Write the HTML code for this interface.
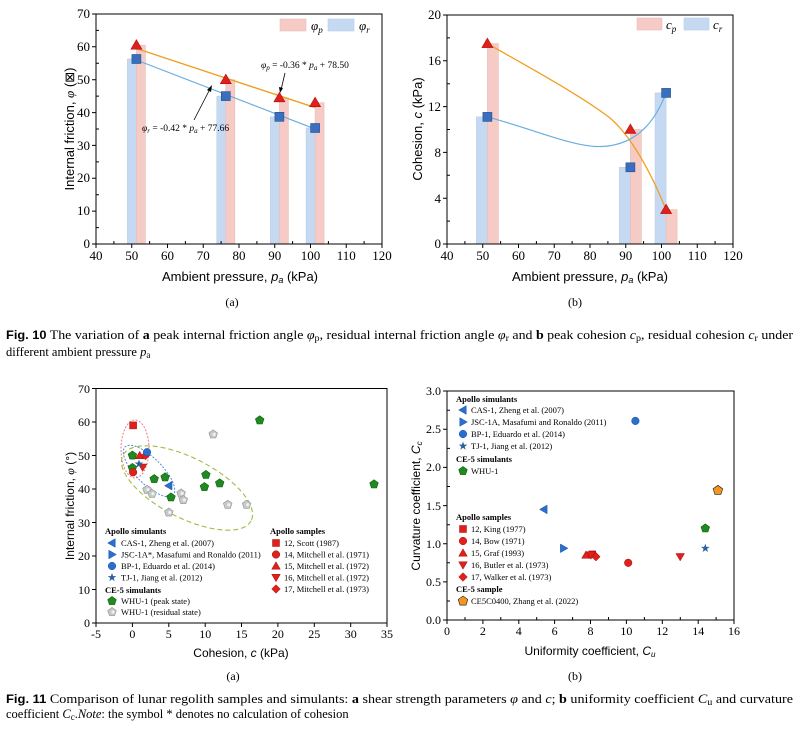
<!DOCTYPE html>
<html><head><meta charset="utf-8"><style>
html,body{margin:0;padding:0;background:#fff;}
svg{display:block;}
.s{font-family:"Liberation Serif",serif;}
.a{font-family:"Liberation Sans",sans-serif;}
</style></head><body>
<svg width="800" height="736" viewBox="0 0 800 736" xmlns="http://www.w3.org/2000/svg">
<defs>
<g id="tri"><polygon points="0,-5.5 5.5,4 -5.5,4" fill="#e0201b" stroke="#b01010" stroke-width="0.6"/></g>
<g id="sq"><rect x="-4.5" y="-4.5" width="9" height="9" fill="#3a6fbf" stroke="#234f90" stroke-width="0.6"/></g>
<g id="gp"><polygon points="0,-4.5 4.3,-1.4 2.6,3.6 -2.6,3.6 -4.3,-1.4" fill="#1f8a1f" stroke="#0f5f0f" stroke-width="0.6"/></g>
<g id="gr"><polygon points="0,-4.5 4.3,-1.4 2.6,3.6 -2.6,3.6 -4.3,-1.4" fill="#c8c8c8" stroke="#909090" stroke-width="0.6"/><circle cx="1" cy="0" r="1.6" fill="#e8f4f0"/></g>
<g id="op"><polygon points="0,-5 4.8,-1.5 3,4.1 -3,4.1 -4.8,-1.5" fill="#f7941d" stroke="#333" stroke-width="0.7"/></g>
<g id="rsq"><rect x="-3.5" y="-3.5" width="7" height="7" fill="#e0201b" stroke="#a01010" stroke-width="0.5"/></g>
<g id="rci"><circle r="3.8" fill="#e0201b" stroke="#a01010" stroke-width="0.5"/></g>
<g id="rtu"><polygon points="0,-4.2 4.3,3.2 -4.3,3.2" fill="#e0201b" stroke="#a01010" stroke-width="0.5"/></g>
<g id="rtd"><polygon points="0,4.2 4.3,-3.2 -4.3,-3.2" fill="#e0201b" stroke="#a01010" stroke-width="0.5"/></g>
<g id="rdi"><polygon points="0,-4.3 4.3,0 0,4.3 -4.3,0" fill="#e0201b" stroke="#a01010" stroke-width="0.5"/></g>
<g id="bci"><circle r="3.8" fill="#2a6fd0" stroke="#1a4f9f" stroke-width="0.5"/></g>
<g id="blt"><polygon points="-4.3,0 3.2,-4.3 3.2,4.3" fill="#2a6fd0" stroke="#1a4f9f" stroke-width="0.5"/></g>
<g id="brt"><polygon points="4.3,0 -3.2,-4.3 -3.2,4.3" fill="#2a6fd0" stroke="#1a4f9f" stroke-width="0.5"/></g>
<g id="bst"><polygon points="0,-4.5 1.1,-1.4 4.3,-1.4 1.7,0.6 2.7,3.7 0,1.8 -2.7,3.7 -1.7,0.6 -4.3,-1.4 -1.1,-1.4" fill="#2a5fa0"/></g>
</defs>

<!-- ============ Fig 10a ============ -->
<g>
<!-- bars -->
<g fill="#c5daf2" stroke="#b8cde6" stroke-width="0.6">
<rect x="127.4" y="59" width="9" height="185"/>
<rect x="216.8" y="96.1" width="9" height="147.9"/>
<rect x="270.4" y="116.8" width="9" height="127.2"/>
<rect x="306.1" y="128" width="9" height="116"/>
</g>
<g fill="#f6cbc6" stroke="#e8bdb8" stroke-width="0.6">
<rect x="136.4" y="45.2" width="9" height="198.8"/>
<rect x="225.8" y="79.7" width="9" height="164.3"/>
<rect x="279.4" y="97.8" width="9" height="146.2"/>
<rect x="315.1" y="102.7" width="9" height="141.3"/>
</g>
<line x1="136.4" y1="48.5" x2="315.1" y2="107.6" stroke="#f0a020" stroke-width="1.4"/>
<line x1="136.4" y1="60" x2="315.1" y2="129" stroke="#6aaee0" stroke-width="1.2"/>
<use href="#tri" x="136.4" y="45.2"/><use href="#tri" x="225.8" y="79.7"/><use href="#tri" x="279.4" y="97.8"/><use href="#tri" x="315.1" y="102.7"/>
<use href="#sq" x="136.4" y="59"/><use href="#sq" x="225.8" y="96.1"/><use href="#sq" x="279.4" y="116.8"/><use href="#sq" x="315.1" y="128"/>
<rect x="96" y="14" width="286" height="230" fill="none" stroke="#000" stroke-width="1"/>
<g stroke="#000" stroke-width="1">
<path d="M96,244v4M131.75,244v4M167.5,244v4M203.25,244v4M239,244v4M274.75,244v4M310.5,244v4M346.25,244v4M382,244v4"/>
<path d="M113.9,244v-3M149.6,244v-3M185.4,244v-3M221.1,244v-3M256.9,244v-3M292.6,244v-3M328.4,244v-3M364.1,244v-3"/>
<path d="M96,244h-4M96,211.1h-4M96,178.3h-4M96,145.4h-4M96,112.6h-4M96,79.7h-4M96,46.8h-4M96,14h-4"/>
<path d="M96,227.6h3M96,194.7h3M96,161.9h3M96,129h3M96,96.1h3M96,63.3h3M96,30.4h3"/>
</g>
<g class="s" font-size="13" text-anchor="end">
<text x="90" y="248">0</text><text x="90" y="215">10</text><text x="90" y="182">20</text><text x="90" y="150">30</text><text x="90" y="117">40</text><text x="90" y="84">50</text><text x="90" y="51">60</text><text x="90" y="18">70</text>
</g>
<g class="s" font-size="13" text-anchor="middle">
<text x="96" y="260">40</text><text x="131.75" y="260">50</text><text x="167.5" y="260">60</text><text x="203.25" y="260">70</text><text x="239" y="260">80</text><text x="274.75" y="260">90</text><text x="310.5" y="260">100</text><text x="346.25" y="260">110</text><text x="382" y="260">120</text>
</g>
<text class="a" font-size="13" x="240" y="281" text-anchor="middle">Ambient pressure, <tspan font-style="italic">p<tspan font-size="9" dy="2">a</tspan></tspan><tspan dy="-2"> (kPa)</tspan></text>
<text class="a" font-size="13" transform="translate(74,129) rotate(-90)" text-anchor="middle">Internal friction, <tspan font-style="italic" class="s">φ</tspan> (⊠)</text>
<rect x="280" y="19" width="26" height="12" fill="#f6cbc6" stroke="#e8bdb8" stroke-width="0.6"/>
<text class="s" font-style="italic" font-size="13" x="311" y="30">φ<tspan font-size="9" dy="3">p</tspan></text>
<rect x="328" y="19" width="26" height="12" fill="#c5daf2" stroke="#b8cde6" stroke-width="0.6"/>
<text class="s" font-style="italic" font-size="13" x="359" y="30">φ<tspan font-size="9" dy="3">r</tspan></text>
<text class="s" font-size="9.5" x="261" y="68"><tspan font-style="italic">φ<tspan font-size="7" dy="2">p</tspan></tspan><tspan dy="-2"> = -0.36 * </tspan><tspan font-style="italic">p<tspan font-size="7" dy="2">a</tspan></tspan><tspan dy="-2"> + 78.50</tspan></text>
<line x1="285" y1="73" x2="281" y2="90" stroke="#000" stroke-width="0.8"/><polygon points="280,93 279,87 283,88" fill="#000"/>
<text class="s" font-size="9.5" x="142" y="131"><tspan font-style="italic">φ<tspan font-size="7" dy="2">r</tspan></tspan><tspan dy="-2"> = -0.42 * </tspan><tspan font-style="italic">p<tspan font-size="7" dy="2">a</tspan></tspan><tspan dy="-2"> + 77.66</tspan></text>
<line x1="194" y1="120" x2="210" y2="89" stroke="#000" stroke-width="0.8"/><polygon points="212,85 211,92 207,90" fill="#000"/>
<text class="s" font-size="12" x="232" y="306" text-anchor="middle">(a)</text>
</g>

<!-- ============ Fig 10b ============ -->
<g>
<g fill="#c5daf2" stroke="#b8cde6" stroke-width="0.6">
<rect x="476.4" y="116.9" width="11" height="127.1"/>
<rect x="619.4" y="167.3" width="11" height="76.7"/>
<rect x="655.1" y="92.9" width="11" height="151.1"/>
</g>
<g fill="#f6cbc6" stroke="#e8bdb8" stroke-width="0.6">
<rect x="487.4" y="43.6" width="11" height="200.4"/>
<rect x="630.4" y="129.5" width="11" height="114.5"/>
<rect x="666.1" y="209.6" width="11" height="34.4"/>
</g>
<path d="M487.4,43.6 C530,68 580,95 610,118 C630,135 650,170 666,209.6" fill="none" stroke="#f0a020" stroke-width="1.3"/>
<path d="M487.4,116.9 C530,128 575,148 602,146.5 C630,145 652,130 666,92.9" fill="none" stroke="#6aaee0" stroke-width="1.2"/>
<use href="#tri" x="487.4" y="43.6"/><use href="#tri" x="630.4" y="129.5"/><use href="#tri" x="666.1" y="209.6"/>
<use href="#sq" x="487.4" y="116.9"/><use href="#sq" x="630.4" y="167.3"/><use href="#sq" x="666.1" y="92.9"/>
<rect x="447" y="15" width="286" height="229" fill="none" stroke="#000" stroke-width="1"/>
<g stroke="#000" stroke-width="1">
<path d="M447,244v4M482.75,244v4M518.5,244v4M554.25,244v4M590,244v4M625.75,244v4M661.5,244v4M697.25,244v4M733,244v4"/>
<path d="M464.9,244v-3M500.6,244v-3M536.4,244v-3M572.1,244v-3M607.9,244v-3M643.6,244v-3M679.4,244v-3M715.1,244v-3"/>
<path d="M447,244h-4M447,198.2h-4M447,152.4h-4M447,106.6h-4M447,60.8h-4M447,15h-4"/>
<path d="M447,221.1h3M447,175.3h3M447,129.5h3M447,83.7h3M447,37.9h3"/>
</g>
<g class="s" font-size="13" text-anchor="end">
<text x="441" y="248">0</text><text x="441" y="203">4</text><text x="441" y="157">8</text><text x="441" y="111">12</text><text x="441" y="65">16</text><text x="441" y="19">20</text>
</g>
<g class="s" font-size="13" text-anchor="middle">
<text x="447" y="260">40</text><text x="482.75" y="260">50</text><text x="518.5" y="260">60</text><text x="554.25" y="260">70</text><text x="590" y="260">80</text><text x="625.75" y="260">90</text><text x="661.5" y="260">100</text><text x="697.25" y="260">110</text><text x="733" y="260">120</text>
</g>
<text class="a" font-size="13" x="590" y="281" text-anchor="middle">Ambient pressure, <tspan font-style="italic">p<tspan font-size="9" dy="2">a</tspan></tspan><tspan dy="-2"> (kPa)</tspan></text>
<text class="a" font-size="13" transform="translate(422,129) rotate(-90)" text-anchor="middle">Cohesion, <tspan font-style="italic">c</tspan> (kPa)</text>
<rect x="637" y="18" width="25" height="12" fill="#f6cbc6" stroke="#e8bdb8" stroke-width="0.6"/>
<text class="s" font-style="italic" font-size="13" x="666" y="29">c<tspan font-size="9" dy="3">p</tspan></text>
<rect x="684" y="18" width="25" height="12" fill="#c5daf2" stroke="#b8cde6" stroke-width="0.6"/>
<text class="s" font-style="italic" font-size="13" x="713" y="29">c<tspan font-size="9" dy="3">r</tspan></text>
<text class="s" font-size="12" x="575" y="306" text-anchor="middle">(b)</text>
</g>

<!-- Fig 10 caption -->
<g class="s" font-size="12.5">
<text x="6" y="339" textLength="787" lengthAdjust="spacingAndGlyphs"><tspan class="a" font-weight="bold" font-size="11.5">Fig. 10</tspan>  The variation of <tspan font-weight="bold">a</tspan> peak internal friction angle <tspan font-style="italic">φ</tspan><tspan font-size="9" dy="2">p</tspan><tspan dy="-2">, residual internal friction angle </tspan><tspan font-style="italic">φ</tspan><tspan font-size="9" dy="2">r</tspan><tspan dy="-2"> and </tspan><tspan font-weight="bold">b</tspan> peak cohesion <tspan font-style="italic">c</tspan><tspan font-size="9" dy="2">p</tspan><tspan dy="-2">, residual cohesion </tspan><tspan font-style="italic">c</tspan><tspan font-size="9" dy="2">r</tspan><tspan dy="-2"> under</tspan></text>
<text x="6" y="356">different ambient pressure <tspan font-style="italic">p</tspan><tspan font-size="9" dy="2">a</tspan></text>
</g>

<!-- ============ Fig 11a ============ -->
<g>
<ellipse cx="135" cy="449" rx="14" ry="29" fill="none" stroke="#f07a8a" stroke-width="1" stroke-dasharray="2,1.5"/>
<ellipse cx="149" cy="471" rx="34" ry="13" transform="rotate(45 149 471)" fill="none" stroke="#4a8ee0" stroke-width="1" stroke-dasharray="2,1.5"/>
<ellipse cx="187" cy="488" rx="72" ry="30" transform="rotate(27 187 488)" fill="none" stroke="#9ac040" stroke-width="1.1" stroke-dasharray="5,3"/>
<use href="#gr" x="213.2" y="434.4"/><use href="#gr" x="147" y="489.7"/><use href="#gr" x="152" y="493.7"/><use href="#gr" x="181.1" y="493.4"/><use href="#gr" x="183.3" y="500"/><use href="#gr" x="168.8" y="512.5"/><use href="#gr" x="227.7" y="504.7"/><use href="#gr" x="246.6" y="504.7"/>
<use href="#gp" x="132.4" y="455.5"/><use href="#gp" x="132.4" y="467.9"/><use href="#gp" x="154.2" y="479"/><use href="#gp" x="165.1" y="477.3"/><use href="#gp" x="171" y="497.4"/><use href="#gp" x="204.4" y="487"/><use href="#gp" x="205.9" y="474.9"/><use href="#gp" x="219.7" y="483.3"/><use href="#gp" x="259.7" y="420.3"/><use href="#gp" x="374" y="484.3"/>
<use href="#rsq" x="133.1" y="425.4"/><use href="#rci" x="133.1" y="472.3"/><use href="#rtu" x="139.7" y="455.5"/><use href="#rtd" x="142.6" y="467.2"/><use href="#rdi" x="145.5" y="455.5"/>
<use href="#bci" x="147" y="452.2"/><use href="#bst" x="139" y="463.9"/><use href="#blt" x="168.8" y="485.7"/>
<rect x="96" y="388.5" width="291" height="234.5" fill="none" stroke="#000" stroke-width="1"/>
<g stroke="#000" stroke-width="1">
<path d="M96,623v4M132.4,623v4M168.8,623v4M205.2,623v4M241.5,623v4M277.9,623v4M314.3,623v4M350.7,623v4M387,623v4"/>
<path d="M96,623h-4M96,589.5h-4M96,556h-4M96,522.5h-4M96,489h-4M96,455.5h-4M96,422h-4M96,388.5h-4"/>
</g>
<g class="s" font-size="12" text-anchor="end">
<text x="90" y="627">0</text><text x="90" y="594">10</text><text x="90" y="560">20</text><text x="90" y="527">30</text><text x="90" y="493">40</text><text x="90" y="460">50</text><text x="90" y="426">60</text><text x="90" y="393">70</text>
</g>
<g class="s" font-size="12" text-anchor="middle">
<text x="96" y="638">-5</text><text x="132.4" y="638">0</text><text x="168.8" y="638">5</text><text x="205.2" y="638">10</text><text x="241.5" y="638">15</text><text x="277.9" y="638">20</text><text x="314.3" y="638">25</text><text x="350.7" y="638">30</text><text x="387" y="638">35</text>
</g>
<text class="a" font-size="12" x="241" y="657" text-anchor="middle">Cohesion, <tspan font-style="italic">c</tspan> (kPa)</text>
<text class="a" font-size="12" transform="translate(74,506) rotate(-90)" text-anchor="middle">Internal friction, <tspan font-style="italic" class="s">φ</tspan> (°)</text>
<g class="s" font-size="8.5">
<text x="105" y="534" font-weight="bold">Apollo simulants</text>
<use href="#blt" x="112" y="543"/><text x="121" y="546">CAS-1, Zheng et al. (2007)</text>
<use href="#brt" x="112" y="554.5"/><text x="121" y="557.5">JSC-1A*, Masafumi and Ronaldo (2011)</text>
<use href="#bci" x="112" y="566"/><text x="121" y="569">BP-1, Eduardo et al. (2014)</text>
<use href="#bst" x="112" y="577.5"/><text x="121" y="580.5">TJ-1, Jiang et al. (2012)</text>
<text x="105" y="593" font-weight="bold">CE-5 simulants</text>
<use href="#gp" x="112" y="601"/><text x="121" y="604">WHU-1 (peak state)</text>
<use href="#gr" x="112" y="612"/><text x="121" y="615">WHU-1 (residual state)</text>
<text x="270" y="534" font-weight="bold">Apollo samples</text>
<use href="#rsq" x="276" y="543"/><text x="284" y="546">12, Scott (1987)</text>
<use href="#rci" x="276" y="554.5"/><text x="284" y="557.5">14, Mitchell et al. (1971)</text>
<use href="#rtu" x="276" y="566"/><text x="284" y="569">15, Mitchell et al. (1972)</text>
<use href="#rtd" x="276" y="577.5"/><text x="284" y="580.5">16, Mitchell et al. (1972)</text>
<use href="#rdi" x="276" y="589"/><text x="284" y="592">17, Mitchell et al. (1973)</text>
</g>
<text class="s" font-size="12" x="233" y="680" text-anchor="middle">(a)</text>
</g>

<!-- ============ Fig 11b ============ -->
<g>
<rect x="447" y="391" width="287" height="229" fill="none" stroke="#000" stroke-width="1"/>
<g stroke="#000" stroke-width="1">
<path d="M447,620v4M482.9,620v4M518.8,620v4M554.6,620v4M590.5,620v4M626.4,620v4M662.3,620v4M698.2,620v4M734,620v4"/>
<path d="M465,620v-3M500.8,620v-3M536.7,620v-3M572.6,620v-3M608.5,620v-3M644.4,620v-3M680.3,620v-3M716.1,620v-3"/>
<path d="M447,620h-4M447,581.9h-4M447,543.7h-4M447,505.6h-4M447,467.4h-4M447,429.3h-4M447,391h-4"/>
<path d="M447,601h3M447,562.8h3M447,524.7h3M447,486.5h3M447,448.4h3M447,410.2h3"/>
</g>
<g class="s" font-size="12" text-anchor="end">
<text x="441" y="624">0.0</text><text x="441" y="586">0.5</text><text x="441" y="548">1.0</text><text x="441" y="510">1.5</text><text x="441" y="471">2.0</text><text x="441" y="433">2.5</text><text x="441" y="395">3.0</text>
</g>
<g class="s" font-size="12" text-anchor="middle">
<text x="447" y="635">0</text><text x="482.9" y="635">2</text><text x="518.8" y="635">4</text><text x="554.6" y="635">6</text><text x="590.5" y="635">8</text><text x="626.4" y="635">10</text><text x="662.3" y="635">12</text><text x="698.2" y="635">14</text><text x="734" y="635">16</text>
</g>
<text class="a" font-size="12" x="590" y="655" text-anchor="middle">Uniformity coefficient, <tspan font-style="italic">C<tspan font-size="8" dy="2">u</tspan></tspan></text>
<text class="a" font-size="12" transform="translate(420,506) rotate(-90)" text-anchor="middle">Curvature coefficient, <tspan font-style="italic">C<tspan font-size="8" dy="2">c</tspan></tspan></text>
<use href="#blt" x="543.9" y="509.4"/><use href="#brt" x="563.6" y="548.3"/><use href="#bci" x="635.4" y="420.9"/><use href="#bst" x="705.3" y="548.3"/>
<use href="#gp" x="705.3" y="528.4"/><use href="#op" x="717.9" y="490.3"/>
<use href="#rtu" x="586" y="555.1"/><use href="#rsq" x="592.3" y="554.4"/><use href="#rtd" x="591" y="555"/><use href="#rdi" x="595.9" y="556.7"/><use href="#rci" x="628.2" y="562.8"/><use href="#rtd" x="680.2" y="556.7"/>
<g class="s" font-size="8.5">
<text x="456" y="402" font-weight="bold">Apollo simulants</text>
<use href="#blt" x="463" y="410"/><text x="471" y="413">CAS-1, Zheng et al. (2007)</text>
<use href="#brt" x="463" y="422"/><text x="471" y="425">JSC-1A, Masafumi and Ronaldo (2011)</text>
<use href="#bci" x="463" y="434"/><text x="471" y="437">BP-1, Eduardo et al. (2014)</text>
<use href="#bst" x="463" y="446"/><text x="471" y="449">TJ-1, Jiang et al. (2012)</text>
<text x="456" y="462" font-weight="bold">CE-5 simulants</text>
<use href="#gp" x="463" y="471"/><text x="471" y="474">WHU-1</text>
<text x="456" y="520" font-weight="bold">Apollo samples</text>
<use href="#rsq" x="463" y="529"/><text x="471" y="532">12, King (1977)</text>
<use href="#rci" x="463" y="541"/><text x="471" y="544">14, Bow (1971)</text>
<use href="#rtu" x="463" y="553"/><text x="471" y="556">15, Graf (1993)</text>
<use href="#rtd" x="463" y="565"/><text x="471" y="568">16, Butler et al. (1973)</text>
<use href="#rdi" x="463" y="577"/><text x="471" y="580">17, Walker et al. (1973)</text>
<text x="456" y="592" font-weight="bold">CE-5 sample</text>
<use href="#op" x="463" y="601"/><text x="471" y="604">CE5C0400, Zhang et al. (2022)</text>
</g>
<text class="s" font-size="12" x="575" y="680" text-anchor="middle">(b)</text>
</g>

<!-- Fig 11 caption -->
<g class="s" font-size="12.5">
<text x="6" y="703" textLength="787" lengthAdjust="spacingAndGlyphs"><tspan class="a" font-weight="bold" font-size="11.5">Fig. 11</tspan>  Comparison of lunar regolith samples and simulants: <tspan font-weight="bold">a</tspan> shear strength parameters <tspan font-style="italic">φ</tspan> and <tspan font-style="italic">c</tspan>; <tspan font-weight="bold">b</tspan> uniformity coefficient <tspan font-style="italic">C</tspan><tspan font-size="9" dy="2">u</tspan><tspan dy="-2"> and curvature</tspan></text>
<text x="6" y="718">coefficient <tspan font-style="italic">C</tspan><tspan font-size="9" dy="2">c</tspan><tspan dy="-2">.</tspan><tspan font-style="italic">Note</tspan>: the symbol * denotes no calculation of cohesion</text>
</g>
</svg>
</body></html>
